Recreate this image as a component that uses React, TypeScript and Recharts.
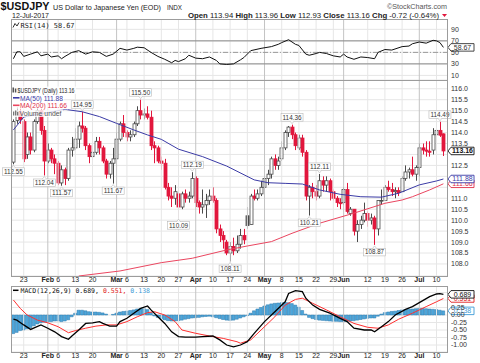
import React from "react";
import {
  Bar,
  CartesianGrid,
  ComposedChart,
  Line,
  ReferenceDot,
  ReferenceLine,
  XAxis,
  YAxis,
} from "recharts";

const FONT = "Arial, 'Liberation Sans', sans-serif";
const MONO = "'DejaVu Sans Mono', monospace";

// daily sessions: 0 = 18 Jan 2017 ... 125 = 12 Jul 2017
const opens = [
  112.65, 114.55, 114.95, 114.5, 113.0, 113.8, 113.2, 114.5, 115.0, 114.1,
  112.7, 113.2, 112.8, 112.6, 111.7, 112.3, 111.9, 113.2, 113.3, 113.7,
  114.3, 114.2, 113.4, 112.9, 113.1, 113.6, 113.3, 112.7, 112.1, 112.6,
  112.8, 113.7, 114.4, 114.0, 113.8, 113.9, 114.4, 115.0, 114.8, 114.85,
  114.7, 113.4, 113.3, 112.7, 112.6, 111.5, 111.1, 111.0, 111.2, 110.6,
  111.2, 111.0, 111.1, 111.9, 110.8, 110.6, 110.7, 110.9, 111.1, 110.9,
  109.6, 109.3, 109.0, 108.5, 108.8, 108.6, 108.9, 109.3, 110.2, 109.8,
  111.1, 111.0, 111.2, 111.5, 111.9, 112.1, 112.8, 112.5, 112.8, 113.3,
  114.0, 114.25, 113.9, 113.3, 113.75, 113.1, 111.1, 111.5, 111.3, 111.1,
  111.8, 111.6, 111.8, 111.3, 111.0, 110.8, 110.8, 111.4, 110.3, 110.5,
  109.5, 109.8, 110.0, 110.3, 110.0, 110.1, 109.6, 110.9, 110.9, 111.5,
  111.4, 111.3, 111.35, 111.3, 111.9, 112.2, 112.3, 112.1, 112.4, 113.3,
  113.2, 113.15, 113.2, 113.9, 114.1, 113.94,
];
const highs = [
  114.6, 115.15, 115.1, 114.6, 114.0, 114.0, 114.6, 115.15, 115.1, 114.3,
  113.5, 113.3, 113.0, 112.7, 112.5, 112.4, 113.3, 113.8, 114.2, 114.5,
  114.95, 114.3, 113.5, 113.3, 113.8, 113.8, 113.4, 112.8, 112.7, 113.3,
  114.0, 114.5, 114.8, 114.1, 114.1, 114.5, 115.2, 115.5, 115.1, 115.2,
  115.0, 113.6, 113.4, 112.9, 112.8, 111.7, 111.5, 111.6, 111.3, 111.3,
  111.4, 111.3, 112.19, 112.0, 110.9, 111.4, 111.2, 111.4, 111.5, 111.0,
  109.8, 109.5, 109.1, 109.0, 109.2, 109.3, 109.6, 109.6, 110.6, 111.2,
  111.4, 111.4, 111.8, 112.0, 112.3, 112.9, 113.0, 112.9, 113.6, 114.1,
  114.3, 114.36, 114.0, 113.9, 113.9, 113.2, 111.6, 111.7, 111.6, 112.11,
  112.0, 112.0, 111.9, 111.4, 111.1, 111.0, 111.5, 111.7, 110.6, 110.5,
  110.0, 110.2, 110.8, 110.4, 110.3, 110.2, 110.9, 111.4, 111.6, 111.8,
  111.7, 111.5, 111.5, 112.0, 112.5, 112.4, 112.9, 112.5, 113.5, 113.5,
  113.6, 113.6, 114.2, 114.2, 114.49, 113.96,
];
const lows = [
  112.55, 114.4, 114.4, 112.65, 112.8, 113.0, 113.1, 114.4, 113.9, 112.04,
  112.6, 112.6, 112.1, 111.6, 111.57, 111.6, 111.8, 112.9, 113.2, 113.3,
  114.0, 113.2, 112.6, 112.8, 113.0, 113.0, 112.6, 111.9, 111.9, 111.67,
  112.8, 113.6, 113.8, 113.6, 113.6, 113.8, 114.3, 114.6, 114.6, 114.6,
  113.2, 112.6, 112.6, 112.3, 111.4, 110.9, 110.6, 110.7, 110.09, 110.5,
  110.8, 110.8, 111.0, 110.6, 110.3, 110.3, 110.1, 110.7, 110.8, 109.4,
  109.0, 108.7, 108.4, 108.11, 108.4, 108.5, 108.7, 108.9, 109.6, 109.8,
  110.9, 110.9, 111.1, 111.4, 111.6, 111.9, 112.3, 112.3, 112.7, 113.2,
  113.8, 113.7, 113.2, 113.2, 112.9, 110.9, 110.21, 111.0, 110.9, 111.0,
  111.3, 111.3, 110.9, 110.9, 110.6, 110.5, 110.7, 110.3, 110.2, 109.3,
  109.0, 109.6, 109.9, 109.7, 109.8, 108.87, 109.3, 110.7, 110.9, 111.3,
  111.1, 111.0, 111.1, 111.3, 111.8, 111.9, 112.0, 111.8, 112.0, 113.0,
  112.9, 112.9, 113.0, 113.6, 113.8, 112.93,
];
const closes = [
  114.5, 114.95, 114.6, 112.8, 113.8, 113.2, 114.5, 115.0, 114.1, 112.7,
  113.2, 112.8, 112.6, 111.7, 112.3, 111.9, 113.2, 113.3, 113.7, 114.3,
  114.2, 113.4, 112.9, 113.1, 113.6, 113.3, 112.7, 112.1, 112.6, 112.8,
  113.7, 114.4, 114.0, 113.8, 113.9, 114.4, 115.0, 114.8, 114.85, 114.7,
  113.4, 113.3, 112.7, 112.6, 111.5, 111.1, 111.0, 111.3, 110.6, 111.2,
  111.0, 111.1, 111.9, 110.8, 110.6, 110.7, 110.9, 111.1, 110.9, 109.6,
  109.3, 109.1, 108.5, 108.8, 108.6, 108.9, 109.3, 109.1, 109.75, 111.1,
  111.0, 111.2, 111.5, 111.9, 112.1, 112.8, 112.5, 112.7, 113.3, 114.0,
  114.25, 113.9, 113.4, 113.75, 113.1, 111.1, 111.5, 111.3, 111.1, 111.8,
  111.6, 111.8, 111.3, 111.0, 110.8, 110.75, 111.4, 110.4, 110.5, 109.5,
  109.8, 110.0, 110.3, 110.0, 110.1, 109.6, 110.9, 110.9, 111.5, 111.4,
  111.3, 111.35, 111.25, 111.9, 112.2, 112.3, 112.1, 112.4, 113.3, 113.2,
  113.15, 113.1, 113.9, 114.1, 113.88, 113.16,
];
const priorClose = 112.7;

const ma50Days = [0, 3, 15, 20, 25, 30, 35, 39, 43, 48, 55, 62, 70, 74, 79, 84, 89, 95, 101, 107, 112, 118, 123, 125];
const ma50Values = [
  114.12, 114.71, 115.06, 114.95, 114.73, 114.42, 114.12, 113.89, 113.69, 113.24, 112.9, 112.47,
  111.84, 111.71, 111.68, 111.65, 111.38, 111.18, 111.07, 111.05, 111.23, 111.61, 111.79, 111.88,
];
const ma200Days = [19, 31, 43, 52, 62, 68, 75, 81, 89, 99, 108, 113, 116, 121, 125];
const ma200Values = [
  107.45, 107.68, 108.06, 108.26, 108.64, 108.82, 109.02, 109.4, 109.86, 110.32, 110.77, 110.92,
  111.07, 111.38, 111.66,
];

const rsiDays = [
  0, 1, 2, 3, 5, 7, 8, 10, 11, 13, 14, 15, 17, 19, 21, 23, 25, 27, 29, 31, 33, 35, 36, 38, 40,
  42, 44, 46, 47, 48, 50, 51, 53, 55, 57, 59, 60, 62, 64, 66, 67, 69, 72, 75, 77, 78, 80, 82, 83,
  85, 86, 88, 89, 91, 93, 95, 96, 97, 99, 101, 103, 105, 106, 108, 110, 113, 115, 116, 118, 120,
  122, 123, 124, 125,
];
const rsiValues = [
  39, 51, 51, 43, 47, 51, 44, 47, 42, 44, 39, 43, 50, 53, 47, 51, 50, 43, 47, 57, 54, 57, 59, 58,
  50, 43, 38, 32, 36, 34, 39, 45, 40, 39, 42, 36, 30, 29, 30, 37, 41, 53, 57, 60, 64, 67, 72, 64,
  62, 47, 45, 48, 50, 48, 44, 42, 47, 42, 38, 42, 41, 39, 50, 55, 54, 60, 61, 65, 68, 66, 71, 70,
  67, 58.67,
];

const macdDays = [
  0, 1, 3, 5, 8, 10, 12, 14, 16, 17, 19, 21, 23, 25, 26, 28, 30, 31, 33, 35, 37, 39, 40, 42, 44,
  46, 48, 50, 53, 55, 58, 60, 62, 64, 66, 68, 70, 73, 76, 79, 80, 82, 84, 85, 87, 89, 92, 95, 97,
  99, 102, 104, 105, 107, 109, 111, 114, 116, 119, 121, 123, 124, 125,
];
const macdValues = [
  -0.14, -0.17, -0.33, -0.48, -0.33, -0.44, -0.56, -0.72, -0.81, -0.7, -0.5, -0.28, -0.26, -0.22,
  -0.28, -0.37, -0.37, -0.22, -0.11, 0.06, 0.22, 0.3, 0.17, -0.06, -0.28, -0.56, -0.72, -0.74,
  -0.74, -0.72, -0.7, -0.83, -1.0, -1.06, -1.0, -0.89, -0.61, -0.22, 0.11, 0.44, 0.72, 0.81, 0.78,
  0.56, 0.33, 0.19, 0.06, -0.11, -0.22, -0.44, -0.5, -0.5, -0.56, -0.39, -0.22, 0.0, 0.19, 0.28,
  0.48, 0.61, 0.7, 0.71, 0.689,
];
const signalDays = [
  0, 2, 4, 7, 10, 13, 16, 18, 21, 24, 27, 30, 33, 36, 39, 41, 44, 47, 49, 53, 57, 61, 65, 66, 69,
  72, 76, 79, 82, 84, 87, 91, 95, 99, 103, 106, 109, 112, 116, 120, 123, 125,
];
const signalValues = [
  0.5, 0.22, 0.0, -0.17, -0.26, -0.39, -0.59, -0.52, -0.44, -0.37, -0.33, -0.33, -0.22, -0.06,
  0.08, 0.11, 0.0, -0.22, -0.5, -0.61, -0.7, -0.78, -0.89, -0.94, -0.83, -0.5, -0.06, 0.33, 0.52,
  0.56, 0.39, 0.17, -0.06, -0.28, -0.41, -0.44, -0.33, -0.14, 0.06, 0.28, 0.44, 0.551,
];
const histValues = [
  -0.62, -0.58, -0.52, -0.5, -0.46, -0.42, -0.36, -0.3, -0.26, -0.24,
  -0.22, -0.22, -0.2, -0.2, -0.22, -0.2, -0.16, -0.06, 0.06, 0.16,
  0.16, 0.14, 0.11, 0.1, 0.1, 0.09, 0.07, 0.03, 0.0, 0.02,
  0.06, 0.1, 0.12, 0.13, 0.15, 0.17, 0.2, 0.22, 0.21, 0.18,
  0.08, -0.03, -0.08, -0.12, -0.16, -0.19, -0.2, -0.2, -0.19, -0.17,
  -0.14, -0.12, -0.1, -0.09, -0.08, -0.06, -0.05, -0.04, -0.06, -0.09,
  -0.12, -0.15, -0.17, -0.18, -0.17, -0.14, -0.1, -0.06, -0.02, 0.06,
  0.14, 0.2, 0.25, 0.3, 0.34, 0.37, 0.39, 0.4, 0.41, 0.42,
  0.41, 0.38, 0.33, 0.26, 0.15, 0.03, -0.08, -0.12, -0.15, -0.17,
  -0.18, -0.19, -0.2, -0.21, -0.21, -0.22, -0.22, -0.21, -0.2, -0.19,
  -0.17, -0.15, -0.13, -0.11, -0.1, -0.1, -0.04, 0.03, 0.08, 0.1,
  0.12, 0.13, 0.15, 0.17, 0.18, 0.19, 0.2, 0.21, 0.22, 0.22,
  0.21, 0.2, 0.19, 0.18, 0.16, 0.138,
];

const tickDays = [3, 10, 13, 18, 23, 30, 33, 38, 43, 48, 53, 58, 63, 68, 73, 78, 83, 88, 93, 96, 103, 108, 113, 118, 123];
const tickLabels = ["23", "Feb", "6", "13", "20", "Mar", "6", "13", "20", "27", "Apr", "10", "17", "24", "May", "8", "15", "22", "29", "Jun", "12", "19", "26", "Jul", "10"];

const priceTicks = [108, 108.5, 109, 109.5, 110, 110.5, 111, 111.5, 112, 112.5, 113, 113.5, 114, 114.5, 115, 115.5, 116];
const rsiTicks = [10, 30, 50, 70, 90];
const macdTicks = [0.75, 0.5, 0.25, 0, -0.25, -0.5, -0.75, -1];
// labels hidden behind the value badges in the reference
const priceTicksCovered = [113, 112, 111.5];
const macdTicksCovered = [0.75, 0.5];

const noteDays = [0, 9, 14, 20, 29, 37, 48, 52, 63, 81, 86, 89, 105, 124];
const noteValues = [112.55, 112.04, 111.57, 114.95, 111.67, 115.5, 110.09, 112.19, 108.11, 114.36, 110.21, 112.11, 108.87, 114.49];
const noteBelow = [true, true, true, false, true, false, true, false, true, false, true, false, true, false];

const X_DOMAIN = [-0.7, 126.34];
const PRICE_DOMAIN = [107.45, 116.4];
const RSI_DOMAIN = [2, 108];
const MACD_DOMAIN = [-1.233, 0.967];

const UP = "#4a4a4a";
const DOWN = "#e2173d";
const MA50 = "#3b3ba6";
const MA200 = "#ea4660";
const SIGNAL = "#ff3030";
const HIST = "#4ea6da";
const HIST_EDGE = "#2a78ad";

const candles = opens.map((o, i) => ({
  i,
  range: [lows[i], highs[i]],
  o,
  h: highs[i],
  l: lows[i],
  c: closes[i],
  pc: i > 0 ? closes[i - 1] : priorClose,
}));
const pts = (days: number[], vals: number[]) => days.map((d, k) => ({ i: d, v: vals[k] }));
const ma50Data = pts(ma50Days, ma50Values);
const ma200Data = pts(ma200Days, ma200Values);
const rsiData = pts(rsiDays, rsiValues);
const macdData = pts(macdDays, macdValues);
const signalData = pts(signalDays, signalValues);
const histData = histValues.map((h, i) => ({ i, h }));

const isMonth = (s: string) => /[A-Z]/.test(s);

function Candle(props: any) {
  const { x, y, width, height, payload } = props;
  const top = Math.min(y, y + height);
  const hgt = Math.abs(height);
  const span = payload.h - payload.l || 1;
  const py = (p: number) => top + ((payload.h - p) / span) * hgt;
  const cx = Math.round(x + width / 2) + 0.5;
  const color = payload.c >= payload.pc ? UP : DOWN;
  const hollow = payload.c >= payload.o;
  const b1 = py(Math.max(payload.o, payload.c));
  const b2 = py(Math.min(payload.o, payload.c));
  return (
    <g>
      <line x1={cx} x2={cx} y1={top} y2={top + hgt} stroke={color} strokeWidth={1} />
      <rect
        x={cx - 1.5}
        y={b1}
        width={3}
        height={Math.max(b2 - b1, 0.8)}
        fill={hollow ? "#fff" : color}
        stroke={color}
        strokeWidth={0.8}
      />
    </g>
  );
}

function DateTick(props: any) {
  const { x, y, payload } = props;
  const label = tickLabels[tickDays.indexOf(payload.value)];
  return (
    <text
      x={x}
      y={y}
      dy="0.71em"
      textAnchor="middle"
      fontSize={7}
      fontWeight={isMonth(label) ? 700 : 400}
      fill="#222"
      fontFamily={FONT}
    >
      {label}
    </text>
  );
}

const valueTick = (digits: number, covered: number[]) => (props: any) => {
  const { x, y, payload } = props;
  if (covered.includes(payload.value)) return <g />;
  return (
    <text x={x} y={y} dy="0.355em" textAnchor="start" fontSize={7} fill="#333" fontFamily={FONT}>
      {Number(payload.value).toFixed(digits)}
    </text>
  );
};

function Note({ cx, cy, text, below }: any) {
  const w = 22;
  const h = 7.5;
  const top = below ? cy + 3.5 : cy - 3.5 - h;
  const edge = below ? top : top + h;
  const tip = below ? cy + 1 : cy - 1;
  return (
    <g>
      <rect x={cx - w / 2} y={top} width={w} height={h} fill="#fff" stroke="#b8b8b8" strokeWidth={0.6} />
      <path d={`M${cx - 2},${edge} L${cx},${tip} L${cx + 2},${edge}`} fill="#fff" stroke="#b8b8b8" strokeWidth={0.6} />
      <text
        x={cx}
        y={top + h - 1.5}
        textAnchor="middle"
        fontSize={7}
        fill="#333"
        fontFamily={FONT}
        textLength={19}
        lengthAdjust="spacingAndGlyphs"
      >
        {text}
      </text>
    </g>
  );
}

function Badge({ viewBox, text, color, bold }: any) {
  if (!viewBox) return null;
  const x = viewBox.x + viewBox.width;
  const y = viewBox.y;
  const w = 26;
  const h = 7.5;
  return (
    <g>
      <path
        d={`M${x},${y} L${x + 3},${y - h / 2} L${x + w},${y - h / 2} L${x + w},${y + h / 2} L${x + 3},${y + h / 2} Z`}
        fill="#fff"
        stroke={color}
        strokeWidth={0.9}
      />
      <text
        x={x + 3 + (w - 3) / 2}
        y={y}
        dy="0.35em"
        textAnchor="middle"
        fontSize={7}
        fontWeight={bold ? 700 : 400}
        fill={color}
        fontFamily={FONT}
      >
        {text}
      </text>
    </g>
  );
}

const badge = (text: string, color: string, bold = false) => (p: any) => (
  <Badge viewBox={p.viewBox} text={text} color={color} bold={bold} />
);

const margin = { top: 0, right: 0, bottom: 0, left: 11 };

const vLines = (prefix: string) =>
  tickDays.map((d, k) => (
    <ReferenceLine key={`${prefix}${d}`} x={d} stroke={isMonth(tickLabels[k]) ? "#c4c4c4" : "#e6e6e6"} />
  ));

const panel = (top: number, height: number) => (
  <div
    style={{
      position: "absolute",
      left: 11,
      top,
      width: 437,
      height,
      border: "1px solid #9c9c9c",
      boxSizing: "border-box",
      pointerEvents: "none",
    }}
  />
);

export default function App() {
  return (
    <div
      style={{
        position: "absolute",
        left: 0,
        top: 0,
        width: 480,
        height: 363,
        background: "#fff",
        overflow: "hidden",
        fontFamily: FONT,
      }}
    >
      <div style={{ position: "absolute", left: 0, top: 19 }}>
        <ComposedChart width={480} height={61} margin={margin}>
          <CartesianGrid vertical={false} stroke="#e6e6e6" />
          {vLines("r")}
          <XAxis type="number" dataKey="i" domain={X_DOMAIN} allowDataOverflow hide ticks={tickDays} />
          <YAxis
            orientation="right"
            width={32}
            domain={RSI_DOMAIN}
            allowDataOverflow
            ticks={rsiTicks}
            interval={0}
            tick={valueTick(0, [])}
            tickLine={false}
            axisLine={false}
            tickSize={2}
            tickMargin={1}
          />
          <ReferenceLine y={70} stroke="#8a8a8a" />
          <ReferenceLine y={30} stroke="#8a8a8a" />
          <ReferenceLine y={50} stroke="#9a9a9a" strokeDasharray="5 2 1 2" />
          <Line data={rsiData} dataKey="v" stroke="#111" strokeWidth={1} dot={false} isAnimationActive={false} />
          <ReferenceLine y={58.67} stroke="none" label={badge("58.67", "#333")} />
        </ComposedChart>
      </div>

      <div style={{ position: "absolute", left: 0, top: 80 }}>
        <ComposedChart width={480} height={206} data={candles} margin={margin}>
          <CartesianGrid vertical={false} stroke="#e6e6e6" />
          {vLines("p")}
          <XAxis
            type="number"
            dataKey="i"
            domain={X_DOMAIN}
            allowDataOverflow
            ticks={tickDays}
            interval={0}
            tick={<DateTick />}
            tickLine={false}
            axisLine={false}
            height={10}
            tickSize={0}
            tickMargin={1}
          />
          <YAxis
            orientation="right"
            width={32}
            domain={PRICE_DOMAIN}
            allowDataOverflow
            ticks={priceTicks}
            interval={0}
            tick={valueTick(1, priceTicksCovered)}
            tickLine={false}
            axisLine={false}
            tickSize={2}
            tickMargin={1}
          />
          <Line data={ma200Data} dataKey="v" stroke={MA200} strokeWidth={1} dot={false} isAnimationActive={false} />
          <Line data={ma50Data} dataKey="v" stroke={MA50} strokeWidth={1} dot={false} isAnimationActive={false} />
          <Bar dataKey="range" barSize={3} shape={<Candle />} isAnimationActive={false} />
          {noteDays.map((d, k) => (
            <ReferenceDot
              key={`n${d}`}
              x={d}
              y={noteValues[k]}
              r={0}
              ifOverflow="visible"
              shape={(p: any) => (
                <Note cx={p.cx} cy={p.cy} text={noteValues[k].toFixed(2)} below={noteBelow[k]} />
              )}
            />
          ))}
          <ReferenceLine y={111.66} stroke="none" label={badge("111.66", "#e0304a")} />
          <ReferenceLine y={111.88} stroke="none" label={badge("111.88", MA50)} />
          <ReferenceLine y={113.16} stroke="none" label={badge("113.16", "#111", true)} />
        </ComposedChart>
      </div>

      <div style={{ position: "absolute", left: 0, top: 286 }}>
        <ComposedChart width={480} height={77} data={histData} margin={margin}>
          <CartesianGrid vertical={false} stroke="#e6e6e6" />
          {vLines("m")}
          <XAxis
            type="number"
            dataKey="i"
            domain={X_DOMAIN}
            allowDataOverflow
            ticks={tickDays}
            interval={0}
            tick={<DateTick />}
            tickLine={false}
            axisLine={false}
            height={11}
            tickSize={0}
            tickMargin={1}
          />
          <YAxis
            orientation="right"
            width={32}
            domain={MACD_DOMAIN}
            allowDataOverflow
            ticks={macdTicks}
            interval={0}
            tick={valueTick(2, macdTicksCovered)}
            tickLine={false}
            axisLine={false}
            tickSize={2}
            tickMargin={1}
          />
          <Bar dataKey="h" barSize={3} fill={HIST} stroke={HIST_EDGE} strokeWidth={0.5} isAnimationActive={false} />
          <Line data={signalData} dataKey="v" stroke={SIGNAL} strokeWidth={1} dot={false} isAnimationActive={false} />
          <Line data={macdData} dataKey="v" stroke="#000" strokeWidth={1.3} dot={false} isAnimationActive={false} />
          <ReferenceLine y={0.138} stroke="none" label={badge("0.138", "#3d9bd6")} />
          <ReferenceLine y={0.551} stroke="none" label={badge("0.551", "#e02020")} />
          <ReferenceLine y={0.689} stroke="none" label={badge("0.689", "#111")} />
        </ComposedChart>
      </div>

      {panel(19, 62)}
      {panel(80, 197)}
      {panel(286, 67)}

      <svg
        width={480}
        height={363}
        style={{ position: "absolute", left: 0, top: 0, pointerEvents: "none" }}
        fontFamily={FONT}
      >
        <text x={0.5} y={10} fontSize={11} fontWeight={700} fill="#111" textLength={49} lengthAdjust="spacingAndGlyphs">
          $USDJPY
        </text>
        <text x={53} y={9.5} fontSize={7.6} fill="#222" textLength={108} lengthAdjust="spacingAndGlyphs">
          US Dollar to Japanese Yen (EOD)
        </text>
        <text x={167} y={9.5} fontSize={6.5} fill="#222" textLength={15} lengthAdjust="spacingAndGlyphs">
          INDX
        </text>
        <text x={12} y={17.5} fontSize={8} fill="#222" textLength={37} lengthAdjust="spacingAndGlyphs">
          12-Jul-2017
        </text>
        <text x={387} y={8.5} fontSize={7.2} fill="#555" textLength={60} lengthAdjust="spacingAndGlyphs">
          ©StockCharts.com
        </text>
        <text x={188} y={17.5} fontSize={7.8} fill="#222" textLength={251} lengthAdjust="spacingAndGlyphs">
          <tspan fontWeight={700}>Open</tspan> 113.94 <tspan fontWeight={700}>High</tspan> 113.96{" "}
          <tspan fontWeight={700}>Low</tspan> 112.93 <tspan fontWeight={700}>Close</tspan> 113.16{" "}
          <tspan fontWeight={700}>Chg</tspan> -0.72 (-0.64%)
        </text>
        <path d="M442,14 L447,14 L444.5,17 Z" fill={DOWN} />

        {/* RSI legend */}
        <polyline points="13,27.5 15,23.5 17,26 19,22.5" fill="none" stroke="#333" strokeWidth={1} />
        <text x={20.5} y={28} fontSize={7} fill="#222" fontFamily={MONO} textLength={54} lengthAdjust="spacingAndGlyphs">
          RSI(14) 58.67
        </text>

        {/* price legend */}
        <rect x={12} y={86.5} width={64} height={7.5} fill="#fff" opacity={0.8} />
        <rect x={12} y={94.5} width={52} height={7.5} fill="#fff" opacity={0.8} />
        <rect x={12} y={102} width={56} height={7.5} fill="#fff" opacity={0.8} />
        <rect x={12} y={109.5} width={51} height={7.5} fill="#fff" opacity={0.8} />
        <rect x={12.5} y={87.5} width={1.5} height={5} fill="#555" />
        <rect x={14.8} y={88.5} width={1.5} height={4} fill="#555" />
        <text x={17.5} y={93} fontSize={6.5} fill="#222" textLength={57} lengthAdjust="spacingAndGlyphs">
          $USDJPY (Daily) 113.16
        </text>
        <line x1={13} x2={19.5} y1={97.8} y2={97.8} stroke={MA50} strokeWidth={1.6} />
        <text x={20} y={100.5} fontSize={6.8} fill={MA50} textLength={43} lengthAdjust="spacingAndGlyphs">
          MA(50) 111.88
        </text>
        <line x1={13} x2={19.5} y1={105.3} y2={105.3} stroke={MA200} strokeWidth={1.6} />
        <text x={20} y={108} fontSize={6.8} fill="#e0304a" textLength={47} lengthAdjust="spacingAndGlyphs">
          MA(200) 111.66
        </text>
        <rect x={13} y={111.5} width={1.3} height={4} fill="#777" />
        <rect x={15} y={110.5} width={1.3} height={5} fill="#777" />
        <rect x={17} y={112} width={1.3} height={3.5} fill="#777" />
        <text x={19.5} y={115.5} fontSize={6.8} fill="#555" textLength={42} lengthAdjust="spacingAndGlyphs">
          Volume undef
        </text>

        {/* MACD legend */}
        <rect x={12} y={287} width={140} height={7} fill="#fff" opacity={0.8} />
        <line x1={13} x2={18.5} y1={290.3} y2={290.3} stroke="#000" strokeWidth={1.5} />
        <text x={20.5} y={293} fontSize={6.5} fontFamily={MONO} textLength={129.5} lengthAdjust="spacingAndGlyphs">
          <tspan fill="#111">MACD(12,26,9) 0.689, </tspan>
          <tspan fill="#e02020">0.551, </tspan>
          <tspan fill="#3d9bd6">0.138</tspan>
        </text>
      </svg>
    </div>
  );
}
